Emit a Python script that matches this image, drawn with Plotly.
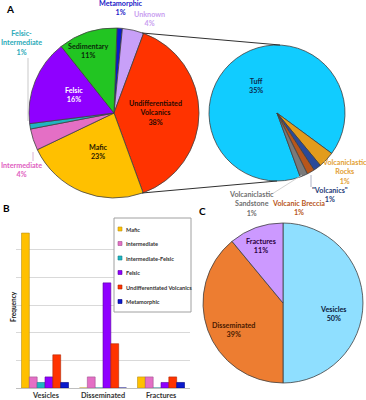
import plotly.graph_objects as go

W, H = 366, 400


def px(x):
    return x / W


def py(y):
    return 1 - y / H


FONT = "Lato"

# ---------------- data ----------------
# Panel A: rock types hosting the occurrences (%)
rock_labels = ["Metamorphic", "Unknown", "Undifferentiated<br>Volcanics", "Mafic",
               "Intermediate", "Felsic-<br>Intermediate", "Felsic", "Sedimentary"]
rock_pct = [1, 4, 38, 23, 4, 1, 16, 11]
rock_colors = ["#0A1ACC", "#C8A0F8", "#FF3300", "#FFC000",
               "#E46FC5", "#1FB5C0", "#8F00FF", "#22C522"]

# Panel A (exploded): subdivision of undifferentiated volcanics
volc_labels = ["Tuff", "Volcaniclastic<br>Rocks", "\"Volcanics\"",
               "Volcanic Breccia", "Volcaniclastic<br>Sandstone"]
volc_values = [35, 1.5, 0.7, 0.7, 0.7]
volc_pct_text = [35, 1, 1, 1, 1]
volc_colors = ["#11CCFF", "#E29C1C", "#2A4A9A", "#B8561A", "#7A7A7A"]

# Panel B: frequency by habit
habit_labels = ["Vesicles", "Disseminated", "Fractures"]
bar_series = ["Mafic", "Intermediate", "Intermediate-Felsic", "Felsic",
              "Undifferentiated Volcanics", "Metamorphic"]
mafic = [28, 0, 2]
intermediate = [2, 2, 2]
intermediate_felsic = [1, 0, 0]
felsic = [2, 19, 1]
undiff_volcanics = [6, 8, 2]
metamorphic = [1, 0, 1]
bar_values = [mafic, intermediate, intermediate_felsic, felsic, undiff_volcanics, metamorphic]
bar_colors = ["#FFC000", "#E46FC5", "#1FB5C0", "#8F00FF", "#FF3300", "#0A1ACC"]
bar_edges = ["#B8901A", "#A05090", "#15808A", "#5A00A0", "#B02500", "#000080"]

# Panel C: habit share (%)
habit_pct = [50, 39, 11]
habit_colors = ["#8FDFFF", "#ED7D31", "#CC99FF"]

# ---------------- figure ----------------
fig = go.Figure()

pie_line = dict(color="#404040", width=0.8)

fig.add_trace(go.Pie(
    labels=rock_labels, values=rock_pct, sort=False, direction="clockwise", rotation=2,
    marker=dict(colors=rock_colors, line=pie_line), textinfo="none",
    domain=dict(x=[px(29), px(199)], y=[py(198), py(28)]), showlegend=False,
    hoverinfo="label+value", name="A"))

fig.add_trace(go.Pie(
    labels=["V " + l for l in volc_labels], values=volc_values, sort=False,
    direction="clockwise", rotation=160,
    marker=dict(colors=volc_colors, line=pie_line), textinfo="none",
    domain=dict(x=[px(209), px(345)], y=[py(181), py(45)]), showlegend=False,
    hoverinfo="label+value", name="A2"))

fig.add_trace(go.Pie(
    labels=["H " + l for l in habit_labels], values=habit_pct, sort=False,
    direction="clockwise", rotation=0,
    marker=dict(colors=habit_colors, line=pie_line), textinfo="none",
    domain=dict(x=[px(203), px(363)], y=[py(383), py(223)]), showlegend=False,
    hoverinfo="label+value", name="C"))

for name, vals, col, edge in zip(bar_series, bar_values, bar_colors, bar_edges):
    fig.add_trace(go.Bar(x=habit_labels, y=vals, name=name,
                         marker=dict(color=col, line=dict(color=edge, width=0.6)),
                         showlegend=False, xaxis="x", yaxis="y"))

annotations = []
shapes = []


def label(x, y, text, color, size=7.2, weight="bold", **kw):
    annotations.append(dict(x=px(x), y=py(y), xref="paper", yref="paper", text=text,
                            showarrow=False, xanchor="center", yanchor="middle",
                            font=dict(family=FONT, size=size, color=color, weight=weight),
                            align="center", **kw))


def line(x0, y0, x1, y1, color, width=1):
    shapes.append(dict(type="line", xref="paper", yref="paper", x0=px(x0), y0=py(y0),
                       x1=px(x1), y1=py(y1), line=dict(color=color, width=width)))


# Panel A labels
rock_pos = [(121, 8), (149, 19), (155, 113), (98, 152), (21, 170), (21, 43), (74, 95), (88, 51)]
rock_text_col = ["#1A1AC8", "#C9A0F0", "#2A0A00", "#2A1A00", "#E060C0", "#2AAAB8", "#FFFFFF", "#0A2A0A"]
for lab, v, (x, y), c in zip(rock_labels, rock_pct, rock_pos, rock_text_col):
    label(x, y, f"{lab}<br>{v}%", c)

volc_pos = [(256, 86), (344, 171.5), (330, 195), (298, 208), (251, 204)]
volc_text_col = ["#0B2B50", "#E3A032", "#1F3C78", "#B8561A", "#707070"]
for lab, v, (x, y), c in zip(volc_labels, volc_pct_text, volc_pos, volc_text_col):
    label(x, y, f"{lab}<br>{v}%", c)

habit_pos = [(333, 313.5), (233, 329.5), (261, 245.5)]
habit_text_col = ["#0B2040", "#4A1A00", "#2A0040"]
for lab, v, (x, y), c in zip(habit_labels, habit_pct, habit_pos, habit_text_col):
    label(x, y, f"{lab}<br>{v}%", c)

# panel letters
label(10, 9, "A", "#000000", size=10)
label(6, 208, "B", "#000000", size=10)
label(203, 211, "C", "#000000", size=10)

# y-axis title for bars
label(13, 307, "Frequency", "#222222", size=6.5, textangle=-90)

# connector lines between pies
line(142, 33, 280, 45, "#303030", 1)
line(142, 193, 277, 181, "#303030", 1)
# leader lines
line(28, 58, 28, 121, "#BBBBBB", 0.8)
line(33, 152, 33, 161, "#D0A0C8", 0.8)
line(272, 194, 302, 175, "#C8C8C8", 0.8)
line(311, 175, 311, 187, "#9AA0B8", 0.8)

# custom legend for panel B
shapes.append(dict(type="rect", xref="paper", yref="paper", x0=px(114), y0=py(312),
                   x1=px(191), y1=py(218), line=dict(color="#A0A0A0", width=1),
                   fillcolor="rgba(255,255,255,1)"))
for i, (name, col, edge) in enumerate(zip(bar_series, bar_colors, bar_edges)):
    yy = 229 + i * 14.5
    shapes.append(dict(type="rect", xref="paper", yref="paper", x0=px(118), y0=py(yy + 2),
                       x1=px(122), y1=py(yy - 2), line=dict(color=edge, width=0.6),
                       fillcolor=col))
    annotations.append(dict(x=px(123.5), y=py(yy), xref="paper", yref="paper", text=name,
                            showarrow=False, xanchor="left", yanchor="middle",
                            font=dict(family=FONT, size=5.6, color="#333333", weight="bold")))

# category labels under the bar groups (placed on the category axis)
for cat in habit_labels:
    annotations.append(dict(x=cat, y=py(395.5), xref="x", yref="paper", text=cat,
                            showarrow=False, xanchor="center", yanchor="middle",
                            font=dict(family=FONT, size=7.3, color="#333333", weight="bold")))

fig.update_layout(
    width=W, height=H, margin=dict(l=0, r=0, t=0, b=0),
    paper_bgcolor="white", plot_bgcolor="white",
    barmode="group", bargap=0.19, bargroupgap=0,
    xaxis=dict(domain=[px(16), px(190)], anchor="y", showline=True, linecolor="#BFBFBF",
               linewidth=1, ticks="", showgrid=False, showticklabels=False),
    yaxis=dict(domain=[py(388), py(222)], anchor="x", range=[0, 30], dtick=5,
               showticklabels=False, showgrid=True, gridcolor="#D9D9D9", gridwidth=1,
               zeroline=False, showline=False),
    annotations=annotations, shapes=shapes,
    font=dict(family=FONT),
)

fig.write_html("out.html", config={"displayModeBar": False},
               post_script="document.body.style.margin='0';document.body.style.padding='0';")
